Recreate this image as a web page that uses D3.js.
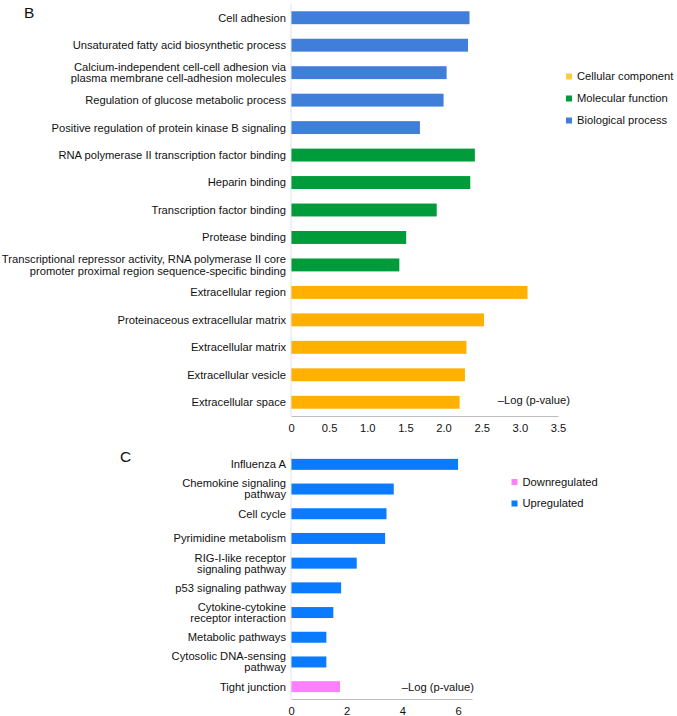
<!DOCTYPE html>
<html>
<head>
<meta charset="utf-8">
<script src="https://cdn.jsdelivr.net/npm/d3@7"></script>
<style>
  body { margin: 0; background: #fff; }
  svg { display: block; font-family: "Liberation Sans", Arial, Helvetica, sans-serif; }
</style>
</head>
<body>
<svg id="chart" width="677" height="716"></svg>
<script>
// ---------- Panel B data ----------
const goTerms = [
  "Cell adhesion",
  "Unsaturated fatty acid biosynthetic process",
  "Calcium-independent cell-cell adhesion via\nplasma membrane cell-adhesion molecules",
  "Regulation of glucose metabolic process",
  "Positive regulation of protein kinase B signaling",
  "RNA polymerase II transcription factor binding",
  "Heparin binding",
  "Transcription factor binding",
  "Protease binding",
  "Transcriptional repressor activity, RNA polymerase II core\npromoter proximal region sequence-specific binding",
  "Extracellular region",
  "Proteinaceous extracellular matrix",
  "Extracellular matrix",
  "Extracellular vesicle",
  "Extracellular space"
];
const goValues = [2.34, 2.32, 2.04, 2.00, 1.69, 2.41, 2.35, 1.91, 1.51, 1.42, 3.10, 2.53, 2.30, 2.28, 2.21];
const goCategory = [
  "Biological process","Biological process","Biological process","Biological process","Biological process",
  "Molecular function","Molecular function","Molecular function","Molecular function","Molecular function",
  "Cellular component","Cellular component","Cellular component","Cellular component","Cellular component"
];
const goLegend = ["Cellular component", "Molecular function", "Biological process"];
const goTicks = [0, 0.5, 1.0, 1.5, 2.0, 2.5, 3.0, 3.5];

// ---------- Panel C data ----------
const keggTerms = [
  "Influenza A",
  "Chemokine signaling\npathway",
  "Cell cycle",
  "Pyrimidine metabolism",
  "RIG-I-like receptor\nsignaling pathway",
  "p53 signaling pathway",
  "Cytokine-cytokine\nreceptor interaction",
  "Metabolic pathways",
  "Cytosolic DNA-sensing\npathway",
  "Tight junction"
];
const keggValues = [6.0, 3.69, 3.43, 3.38, 2.36, 1.80, 1.52, 1.27, 1.27, 1.76];
const keggRegulation = ["Upregulated","Upregulated","Upregulated","Upregulated","Upregulated",
  "Upregulated","Upregulated","Upregulated","Upregulated","Downregulated"];
const keggLegend = ["Downregulated", "Upregulated"];
const keggTicks = [0, 2, 4, 6];

const axisLabel = "\u2013Log (p-value)";

// ---------- styles ----------
const barColorB = d3.scaleOrdinal()
  .domain(["Biological process", "Molecular function", "Cellular component"])
  .range(["#3f7fd9", "#009b3a", "#ffb000"]);
const legendColorB = d3.scaleOrdinal()
  .domain(["Cellular component", "Molecular function", "Biological process"])
  .range(["#f9cd3e", "#009b3a", "#3f7fd9"]);
const colorC = d3.scaleOrdinal()
  .domain(["Downregulated", "Upregulated"])
  .range(["#ff80ff", "#0a7bff"]);

const svg = d3.select("#chart");
const FS = 11.2;
const axisColor = "#bdbdbd";
const textColor = "#111";

function drawPanel(opts) {
  const g = svg.append("g");
  const x = d3.scaleLinear().domain(opts.xDomain).range(opts.xRange);
  const y = d3.scaleBand().domain(d3.range(opts.terms.length))
    .range(opts.yRange).paddingInner(opts.pad).paddingOuter(opts.pad / 2);

  // bars
  g.selectAll("rect.bar").data(opts.values).enter().append("rect")
    .attr("class", "bar")
    .attr("x", x(0))
    .attr("y", (d, i) => y(i))
    .attr("width", d => x(d) - x(0))
    .attr("height", y.bandwidth())
    .attr("fill", (d, i) => opts.color(opts.groups[i]));

  // vertical axis line
  g.append("line")
    .attr("x1", x(0)).attr("x2", x(0))
    .attr("y1", opts.yRange[0]).attr("y2", opts.yRange[1])
    .attr("stroke", "#e2e2e2").attr("stroke-width", 1);

  // category labels
  opts.terms.forEach((t, i) => {
    const lines = t.split("\n");
    const cy = y(i) + y.bandwidth() / 2;
    const lh = opts.lineH;
    const text = g.append("text")
      .attr("text-anchor", "end")
      .attr("font-size", FS)
      .attr("fill", textColor);
    lines.forEach((ln, k) => {
      text.append("tspan")
        .attr("x", x(0) - 5)
        .attr("y", cy + (k - (lines.length - 1) / 2) * lh)
        .attr("dy", "0.35em")
        .text(ln);
    });
  });

  // x axis
  const axis = d3.axisBottom(x).tickValues(opts.ticks).tickSize(0).tickPadding(8)
    .tickFormat(opts.tickFormat);
  const ax = g.append("g").attr("transform", `translate(0,${opts.yRange[1]})`).call(axis);
  ax.select(".domain").attr("stroke", axisColor);
  ax.selectAll("text").attr("font-size", FS).attr("fill", textColor)
    .attr("font-family", "Liberation Sans, Arial, sans-serif");

  // axis title
  g.append("text")
    .attr("x", opts.titlePos[0]).attr("y", opts.titlePos[1])
    .attr("dy", "0.35em")
    .attr("text-anchor", "end")
    .attr("font-size", FS)
    .attr("fill", textColor)
    .text(axisLabel);

  // legend
  opts.legend.forEach((name, i) => {
    const ly = opts.legendPos[1] + i * opts.legendStep;
    g.append("rect")
      .attr("x", opts.legendPos[0]).attr("y", ly - 3)
      .attr("width", 6).attr("height", 6)
      .attr("fill", opts.legendColor(name));
    g.append("text")
      .attr("x", opts.legendPos[0] + 11).attr("y", ly)
      .attr("dy", "0.35em")
      .attr("font-size", FS)
      .attr("fill", textColor)
      .text(name);
  });

  // panel letter
  g.append("text")
    .attr("x", opts.letterPos[0]).attr("y", opts.letterPos[1])
    .attr("dy", "0.35em")
    .attr("font-size", 15.5)
    .attr("fill", "#111")
    .text(opts.letter);
}

drawPanel({
  terms: goTerms, values: goValues, groups: goCategory,
  color: barColorB, legendColor: legendColorB, legend: goLegend,
  xDomain: [0, 3.5], xRange: [291, 558],
  yRange: [4, 416], pad: 0.53, lineH: 11.5,
  ticks: goTicks, tickFormat: d => d === 0 ? "0" : d3.format(".1f")(d),
  titlePos: [570, 400],
  legendPos: [566, 76.5], legendStep: 22,
  letter: "B", letterPos: [24, 13]
});

drawPanel({
  terms: keggTerms, values: keggValues, groups: keggRegulation,
  color: colorC, legendColor: colorC, legend: keggLegend,
  xDomain: [0, 6.5], xRange: [291, 472],
  yRange: [452, 699], pad: 0.555, lineH: 11,
  ticks: keggTicks, tickFormat: d3.format("d"),
  titlePos: [474, 687],
  legendPos: [511.5, 482], legendStep: 21.5,
  letter: "C", letterPos: [120, 457]
});
</script>
</body>
</html>
